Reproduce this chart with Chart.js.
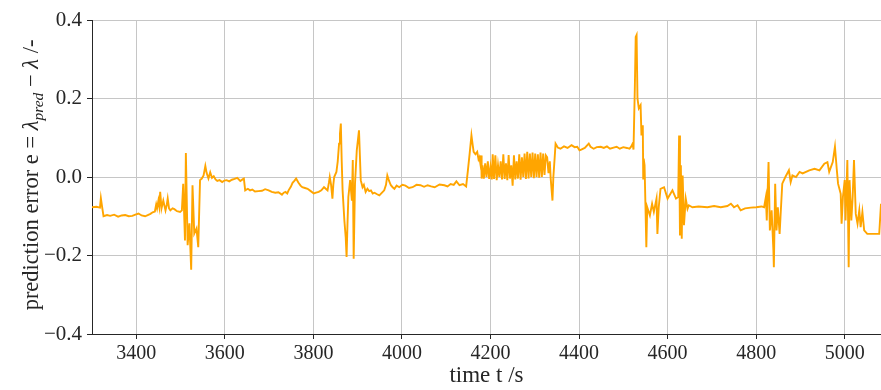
<!DOCTYPE html>
<html>
<head>
<meta charset="utf-8">
<script src="https://cdn.jsdelivr.net/npm/chart.js@4"></script>
<style>
  html, body { margin: 0; padding: 0; background: #fff; }
  #wrap { width: 881px; height: 390px; }
</style>
</head>
<body>
<div id="wrap"><canvas id="chart" width="881" height="390"></canvas></div>
<script>
// prediction error over time
const timeS = [
  3300, 3310, 3318, 3320, 3322, 3326, 3334, 3341, 3350, 3359, 3367, 3375, 3383, 3391, 3398, 3405,
  3412, 3420, 3426, 3432, 3437, 3442, 3445, 3447, 3450, 3452, 3454, 3457, 3461, 3466, 3469, 3471,
  3474, 3477, 3482, 3486, 3492, 3499, 3503, 3506, 3510, 3512, 3516, 3520, 3524, 3527, 3531, 3536,
  3540, 3544, 3548, 3552, 3556, 3559, 3563, 3567, 3571, 3575, 3579, 3583, 3588, 3594, 3599, 3604,
  3610, 3616, 3622, 3628, 3635, 3640, 3643, 3646, 3652, 3657, 3662, 3668, 3676, 3684, 3691, 3699,
  3706, 3714, 3721, 3729, 3733, 3737, 3741, 3744, 3749, 3753, 3757, 3761, 3766, 3771, 3775, 3781,
  3787, 3794, 3801, 3806, 3812, 3818, 3824, 3828, 3832, 3835, 3837, 3840, 3843, 3845, 3847, 3852,
  3855, 3858, 3860, 3862, 3864, 3866, 3870, 3873, 3875, 3877, 3879, 3883, 3887, 3889, 3891, 3894,
  3898, 3903, 3907, 3911, 3914, 3918, 3922, 3926, 3930, 3934, 3938, 3944, 3949, 3955, 3960, 3964,
  3967, 3971, 3975, 3979, 3983, 3988, 3994, 4001, 4008, 4016, 4024, 4033, 4042, 4050, 4058, 4066,
  4074, 4085, 4096, 4103, 4110, 4117, 4123, 4130, 4138, 4145, 4149, 4153, 4157, 4160, 4162, 4166,
  4170, 4173, 4175, 4177, 4179, 4180, 4182, 4185, 4188, 4191, 4194, 4197, 4200, 4203, 4205, 4208,
  4211, 4214, 4217, 4220, 4223, 4226, 4229, 4232, 4235, 4238, 4241, 4244, 4247, 4250, 4253, 4256,
  4259, 4262, 4265, 4268, 4271, 4274, 4277, 4280, 4283, 4286, 4289, 4292, 4295, 4298, 4301, 4304,
  4307, 4310, 4313, 4316, 4319, 4322, 4325, 4328, 4331, 4334, 4336, 4340, 4342, 4345, 4347, 4352,
  4358, 4366, 4374, 4383, 4390, 4396, 4401, 4405, 4413, 4422, 4426, 4433, 4440, 4449, 4456, 4463,
  4470, 4478, 4485, 4492, 4500, 4508, 4514, 4518, 4521, 4523, 4526, 4528, 4530, 4532, 4535, 4539,
  4541, 4544, 4545, 4546, 4548, 4550, 4552, 4554, 4560, 4565, 4569, 4575, 4577, 4580, 4584, 4592,
  4600, 4611, 4619, 4624, 4626, 4628, 4630, 4632, 4634, 4637, 4641, 4645, 4648, 4656, 4670, 4690,
  4705, 4720, 4735, 4743, 4750, 4758, 4765, 4775, 4788, 4800, 4812, 4818, 4822, 4824, 4828, 4831,
  4835, 4839, 4840, 4843, 4846, 4849, 4853, 4855, 4859, 4866, 4874, 4878, 4882, 4890, 4898, 4905,
  4920, 4932, 4943, 4954, 4961, 4965, 4973, 4978, 4982, 4985, 4991, 4993, 4996, 5000, 5002, 5006,
  5009, 5011, 5015, 5018, 5021, 5025, 5029, 5033, 5036, 5040, 5044, 5051, 5066, 5078, 5082
];
const errorE = [
  -0.077, -0.076, -0.078, -0.054, -0.070, -0.100, -0.097, -0.099, -0.096, -0.101, -0.098, -0.097, -0.100, -0.099, -0.096, -0.093,
  -0.098, -0.100, -0.097, -0.094, -0.090, -0.088, -0.070, -0.080, -0.060, -0.075, -0.038, -0.080, -0.060, -0.085, -0.070, -0.055,
  -0.080, -0.085, -0.080, -0.082, -0.087, -0.089, -0.085, -0.017, -0.162, 0.061, -0.174, -0.118, -0.236, -0.021, -0.144, -0.131,
  -0.179, -0.008, -0.004, 0.004, 0.028, 0.010, -0.004, 0.012, -0.002, 0.002, -0.006, -0.010, -0.008, -0.013, -0.009, -0.008,
  -0.011, -0.007, -0.005, -0.002, -0.010, -0.006, -0.004, -0.034, -0.030, -0.034, -0.032, -0.037, -0.036, -0.035, -0.031, -0.034,
  -0.038, -0.040, -0.039, -0.045, -0.040, -0.038, -0.042, -0.034, -0.025, -0.015, -0.010, -0.004, -0.014, -0.022, -0.026, -0.028,
  -0.030, -0.036, -0.042, -0.040, -0.038, -0.034, -0.026, -0.030, -0.034, -0.015, 0.000, -0.020, -0.055, -0.020, 0.000, 0.013,
  0.040, 0.085, 0.110, 0.136, 0.040, -0.034, -0.111, -0.153, -0.204, -0.120, -0.051, -0.008, -0.060, 0.043, -0.208, -0.017,
  0.068, 0.119, -0.008, -0.026, -0.020, -0.038, -0.030, -0.036, -0.034, -0.042, -0.040, -0.044, -0.047, -0.040, -0.034, -0.020,
  0.004, -0.010, -0.021, -0.026, -0.030, -0.022, -0.026, -0.020, -0.022, -0.028, -0.026, -0.020, -0.021, -0.025, -0.021, -0.024,
  -0.026, -0.019, -0.021, -0.024, -0.018, -0.020, -0.011, -0.021, -0.018, -0.024, 0.017, 0.060, 0.106, 0.080, 0.064, 0.058,
  0.064, 0.045, 0.050, 0.035, 0.055, -0.004, 0.030, -0.004, 0.035, 0.000, 0.040, -0.005, 0.025, -0.006, 0.058, -0.005,
  0.055, -0.008, 0.030, 0.000, 0.040, -0.006, 0.058, -0.005, 0.035, -0.008, 0.056, -0.004, 0.030, -0.022, 0.055, -0.006,
  0.040, -0.004, 0.058, -0.007, 0.050, 0.000, 0.060, -0.005, 0.064, -0.004, 0.060, 0.000, 0.062, -0.003, 0.060, 0.000,
  0.058, -0.002, 0.062, 0.000, 0.060, 0.005, 0.055, 0.050, 0.010, 0.040, -0.004, -0.060, 0.000, 0.050, 0.085, 0.075,
  0.072, 0.078, 0.074, 0.081, 0.076, 0.077, 0.068, 0.070, 0.074, 0.085, 0.077, 0.072, 0.076, 0.077, 0.074, 0.078,
  0.072, 0.075, 0.077, 0.072, 0.076, 0.074, 0.072, 0.078, 0.085, 0.070, 0.226, 0.357, 0.362, 0.200, 0.175, 0.183,
  0.106, 0.132, -0.004, 0.047, 0.030, -0.072, -0.179, -0.077, -0.098, -0.068, -0.089, -0.055, -0.145, -0.077, -0.030, -0.026,
  -0.055, -0.034, -0.055, -0.051, 0.106, -0.149, 0.030, -0.157, 0.004, -0.123, -0.055, -0.081, -0.072, -0.077, -0.075, -0.077,
  -0.074, -0.077, -0.074, -0.068, -0.077, -0.072, -0.085, -0.080, -0.078, -0.077, -0.075, -0.077, -0.051, -0.111, 0.038, -0.136,
  -0.085, -0.187, -0.230, -0.017, -0.136, -0.077, -0.145, -0.102, -0.017, 0.000, 0.017, -0.013, 0.004, 0.000, 0.013, 0.009,
  0.017, 0.021, 0.017, 0.034, 0.038, 0.013, 0.038, 0.077, 0.021, -0.017, -0.043, -0.119, -0.051, -0.008, -0.111, 0.043,
  -0.230, -0.008, -0.111, -0.051, 0.043, -0.094, -0.119, -0.085, -0.128, -0.089, -0.136, -0.145, -0.145, -0.145, -0.068
];
const xTicks = [3400, 3600, 3800, 4000, 4200, 4400, 4600, 4800, 5000];
const yTicks = [-0.4, -0.2, 0.0, 0.2, 0.4];
const xLabel = 'time t /s';
// y label pieces: plain text, math italic, subscript
const yLabelParts = [
  { text: 'prediction error ', italic: false, sub: false },
  { text: 'e', italic: false, sub: false },
  { text: ' = ', italic: false, sub: false },
  { text: 'λ', italic: true, sub: false },
  { text: 'pred', italic: true, sub: true },
  { text: ' − ', italic: false, sub: false },
  { text: 'λ', italic: true, sub: false },
  { text: ' /-', italic: false, sub: false },
];

const FONT = "'Liberation Serif', 'DejaVu Serif', serif";
const INK = '#262626';

const yLabelPlugin = {
  id: 'yLabel',
  afterDraw(chart) {
    const ctx = chart.ctx;
    const size = 22.5, subSize = 15.5;
    const fontFor = p => `${p.italic ? 'italic ' : ''}${p.sub ? subSize : size}px ${FONT}`;
    let total = 0;
    yLabelParts.forEach(p => { ctx.font = fontFor(p); total += ctx.measureText(p.text).width; });
    ctx.save();
    ctx.translate(38, 175);
    ctx.rotate(-Math.PI / 2);
    ctx.fillStyle = INK;
    ctx.textBaseline = 'alphabetic';
    let u = -total / 2;
    yLabelParts.forEach(p => {
      ctx.font = fontFor(p);
      ctx.fillText(p.text, u, p.sub ? 4.5 : 0);
      u += ctx.measureText(p.text).width;
    });
    ctx.restore();
  }
};

new Chart(document.getElementById('chart'), {
  type: 'line',
  data: {
    datasets: [{
      data: timeS.map((t, i) => ({ x: t, y: errorE[i] })),
      borderColor: '#ffa500',
      borderWidth: 1.9,
      pointRadius: 0,
      tension: 0,
      fill: false,
    }],
  },
  options: {
    responsive: false,
    animation: false,
    layout: { padding: { top: 20, right: 0, left: 0, bottom: 0 } },
    plugins: { legend: { display: false }, tooltip: { enabled: false } },
    scales: {
      x: {
        type: 'linear',
        min: 3300,
        max: 5082,
        afterFit: s => { s.height = 56; },
        afterBuildTicks: s => { s.ticks = xTicks.map(v => ({ value: v })); },
        grid: { color: '#c6c6c6', lineWidth: 1, drawTicks: true, tickLength: 5, tickColor: INK },
        border: { display: true, color: INK, width: 1 },
        ticks: { color: INK, font: { family: FONT, size: 20 }, padding: 3, maxRotation: 0, callback: v => String(v) },
        title: { display: true, text: xLabel, color: INK, font: { family: FONT, size: 23 }, padding: { top: 0, bottom: 0 } },
      },
      y: {
        min: -0.4,
        max: 0.4,
        afterFit: s => { s.width = 92; },
        afterBuildTicks: s => { s.ticks = yTicks.map(v => ({ value: v })); },
        grid: { color: '#c6c6c6', lineWidth: 1, drawTicks: true, tickLength: 5, tickColor: INK },
        border: { display: true, color: INK, width: 1 },
        ticks: { color: INK, font: { family: FONT, size: 21 }, padding: 5, callback: v => v.toFixed(1).replace('-', '−') },
      },
    },
  },
  plugins: [yLabelPlugin],
});
</script>
</body>
</html>
